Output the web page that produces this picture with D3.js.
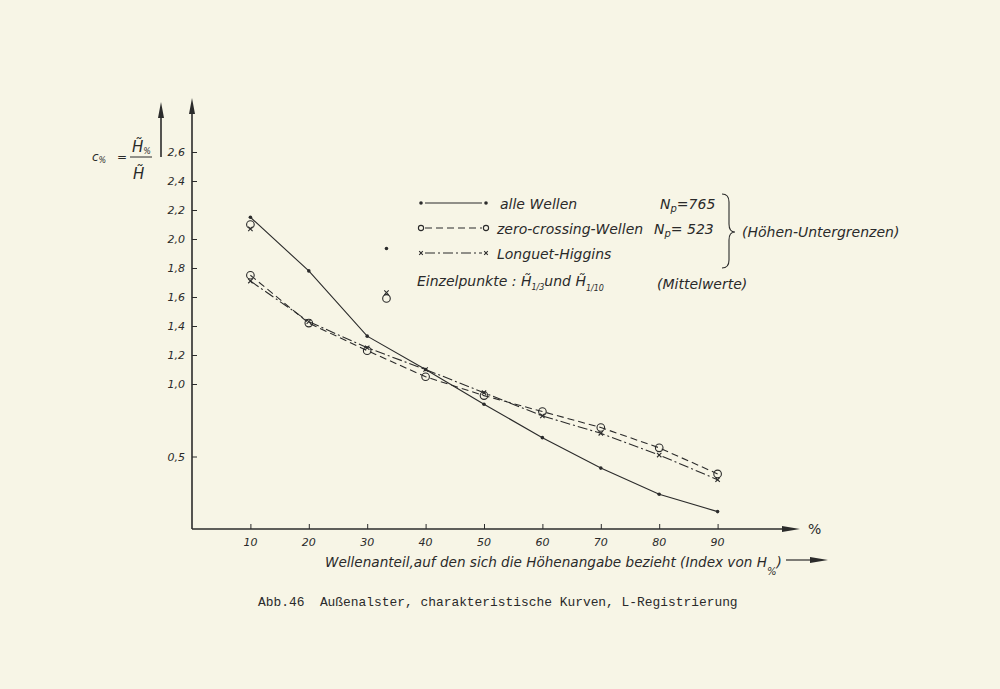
<!DOCTYPE html>
<html>
<head>
<meta charset="utf-8">
<script src="https://cdn.jsdelivr.net/npm/d3@7"></script>
<style>
  body { margin: 0; background: #f7f5e6; }
  svg { display: block; }
  text { fill: #2a2a2a; }
</style>
</head>
<body>
<script>
// chart data
var pct = [10, 20, 30, 40, 50, 60, 70, 80, 90];
var alleWellen = [2.15, 1.78, 1.33, 1.10, 0.86, 0.63, 0.42, 0.24, 0.12];
var zeroCrossing = [1.75, 1.42, 1.23, 1.05, 0.92, 0.81, 0.70, 0.56, 0.38];
var longuetHiggins = [1.71, 1.43, 1.25, 1.10, 0.94, 0.78, 0.66, 0.51, 0.34];

// single points: H 1/10 (index 10) and H 1/3 (index 33)
var singlePct = [10, 33.3];
var singleAlle = [null, 1.935];
var singleZero = [2.10, 1.59];
var singleLH = [2.07, 1.63];

var yTicks = [0.5, 1.0, 1.2, 1.4, 1.6, 1.8, 2.0, 2.2, 2.4, 2.6];
var xTicks = [10, 20, 30, 40, 50, 60, 70, 80, 90];

var width = 1000;
var height = 689;
var ink = '#2b2b2b';
var font = '"DejaVu Sans", sans-serif';

var svg = d3.select('body').append('svg')
  .attr('width', width)
  .attr('height', height);

// scales - both start at 0 on the axes crossing
var x = d3.scaleLinear().domain([0, 100]).range([192, 776]);
var y = d3.scaleLinear().domain([0, 2.6]).range([529, 152]);

var fmt = function(d) { return d3.format('.1f')(d).replace('.', ','); };

// arrow head helper (pointing up or right)
var arrowHead = function(tx, ty, dir) {
  var p = dir === 'up'
    ? [[tx, ty], [tx - 3, ty + 16], [tx + 3, ty + 16]]
    : [[tx, ty], [tx - 18, ty - 3], [tx - 18, ty + 3]];
  svg.append('path')
    .attr('d', d3.line()(p) + 'Z')
    .attr('fill', ink);
};

// y axis
var yAxis = d3.axisRight(y).tickValues(yTicks).tickSize(5).tickFormat('');
var gy = svg.append('g').attr('transform', 'translate(' + x(0) + ',0)').call(yAxis);
gy.select('.domain').remove();
gy.selectAll('line').attr('stroke', ink);
svg.append('line')
  .attr('x1', x(0)).attr('x2', x(0))
  .attr('y1', y(0)).attr('y2', 110)
  .attr('stroke', ink).attr('stroke-width', 1.6);
arrowHead(x(0), 98, 'up');
svg.selectAll('.ylab').data(yTicks).enter().append('text')
  .attr('x', 185).attr('y', function(d) { return y(d) + 4; })
  .attr('text-anchor', 'end')
  .attr('font-family', font).attr('font-style', 'italic')
  .attr('font-size', 11)
  .text(fmt);

// x axis
var xAxis = d3.axisTop(x).tickValues(xTicks).tickSize(5).tickFormat('');
var gx = svg.append('g').attr('transform', 'translate(0,' + y(0) + ')').call(xAxis);
gx.select('.domain').remove();
gx.selectAll('line').attr('stroke', ink);
svg.append('line')
  .attr('x1', x(0)).attr('x2', 790)
  .attr('y1', y(0)).attr('y2', y(0))
  .attr('stroke', ink).attr('stroke-width', 1.6);
arrowHead(800, y(0), 'right');
svg.selectAll('.xlab').data(xTicks).enter().append('text')
  .attr('x', function(d) { return x(d); }).attr('y', 546)
  .attr('text-anchor', 'middle')
  .attr('font-family', font).attr('font-style', 'italic')
  .attr('font-size', 11)
  .text(function(d) { return d; });
svg.append('text')
  .attr('x', 808).attr('y', 534)
  .attr('font-family', font).attr('font-size', 14)
  .text('%');

// x axis title
var xt = svg.append('text')
  .attr('x', 325).attr('y', 567)
  .attr('font-family', font).attr('font-style', 'italic')
  .attr('font-size', 13.6);
xt.append('tspan').text('Wellenanteil,auf den sich die Höhenangabe bezieht (Index von H');
xt.append('tspan').attr('dy', 8).attr('font-size', 10).text('%');
xt.append('tspan').attr('dy', -8).text(')');
svg.append('line')
  .attr('x1', 786).attr('x2', 812).attr('y1', 560).attr('y2', 560)
  .attr('stroke', ink).attr('stroke-width', 1.2);
arrowHead(828, 560, 'right');

// y axis title c% = H%/H
svg.append('text')
  .attr('x', 92).attr('y', 161)
  .attr('font-family', font).attr('font-style', 'italic').attr('font-size', 12)
  .text('c').append('tspan').attr('dy', 2).attr('font-size', 8).text('%');
svg.append('text')
  .attr('x', 117).attr('y', 161)
  .attr('font-family', font).attr('font-size', 12)
  .text('=');
svg.append('line')
  .attr('x1', 130).attr('x2', 152).attr('y1', 157).attr('y2', 157)
  .attr('stroke', ink).attr('stroke-width', 1);
svg.append('text')
  .attr('x', 132).attr('y', 152)
  .attr('font-family', font).attr('font-style', 'italic').attr('font-size', 15)
  .text('H\u0303').append('tspan').attr('dy', 2).attr('font-size', 8).text('%');
svg.append('text')
  .attr('x', 133).attr('y', 179)
  .attr('font-family', font).attr('font-style', 'italic').attr('font-size', 15)
  .text('H\u0303');
svg.append('line')
  .attr('x1', 161).attr('x2', 161).attr('y1', 157).attr('y2', 112)
  .attr('stroke', ink).attr('stroke-width', 1.6);
arrowHead(161, 102, 'up');

// series lines
var series = [
  { values: alleWellen, dash: null, marker: 'dot' },
  { values: zeroCrossing, dash: '7,4', marker: 'circle' },
  { values: longuetHiggins, dash: '10,3,2,3', marker: 'cross' }
];

var line = d3.line()
  .defined(function(d) { return d[1] != null; })
  .x(function(d) { return x(d[0]); })
  .y(function(d) { return y(d[1]); });

var drawMarker = function(kind, px, py, small) {
  if (kind === 'dot') {
    svg.append('circle').attr('cx', px).attr('cy', py).attr('r', 1.8).attr('fill', ink);
  } else if (kind === 'circle') {
    svg.append('circle').attr('cx', px).attr('cy', py).attr('r', small ? 2.6 : 3.8)
      .attr('fill', 'none').attr('stroke', ink).attr('stroke-width', 1.1);
  } else {
    var s = small ? 1.8 : 2.2;
    svg.append('path')
      .attr('d', 'M' + (px - s) + ',' + (py - s) + 'L' + (px + s) + ',' + (py + s) +
                 'M' + (px - s) + ',' + (py + s) + 'L' + (px + s) + ',' + (py - s))
      .attr('stroke', ink).attr('stroke-width', 1.1);
  }
};

series.forEach(function(s) {
  var pts = pct.map(function(p, i) { return [p, s.values[i]]; });
  svg.append('path')
    .attr('d', line(pts))
    .attr('fill', 'none')
    .attr('stroke', ink)
    .attr('stroke-width', 1.1)
    .attr('stroke-dasharray', s.dash);
  pts.forEach(function(d) { drawMarker(s.marker, x(d[0]), y(d[1])); });
});

// single points
singlePct.forEach(function(p, i) {
  if (singleAlle[i] != null) drawMarker('dot', x(p), y(singleAlle[i]));
  drawMarker('circle', x(p), y(singleZero[i]));
  drawMarker('cross', x(p), y(singleLH[i]));
});

// legend
var legRows = [
  { yy: 203, label: 'alle Wellen', n: '765', nx: 660, dash: null, marker: 'dot' },
  { yy: 228, label: 'zero-crossing-Wellen', n: ' 523', nx: 654, dash: '7,4', marker: 'circle' },
  { yy: 253, label: 'Longuet-Higgins', n: null, dash: '10,3,2,3', marker: 'cross' }
];
legRows.forEach(function(r) {
  svg.append('line')
    .attr('x1', 425).attr('x2', 482).attr('y1', r.yy).attr('y2', r.yy)
    .attr('stroke', ink).attr('stroke-width', 1.1)
    .attr('stroke-dasharray', r.dash);
  drawMarker(r.marker, 421, r.yy, true);
  drawMarker(r.marker, 486, r.yy, true);
  svg.append('text')
    .attr('x', r.marker === 'dot' ? 500 : 497).attr('y', r.yy + 6)
    .attr('font-family', font).attr('font-style', 'italic').attr('font-size', 14)
    .text(r.label);
  if (r.n) {
    var t = svg.append('text')
      .attr('x', r.nx).attr('y', r.yy + 6)
      .attr('font-family', font).attr('font-style', 'italic').attr('font-size', 14)
      .text('N');
    t.append('tspan').attr('dy', 3).attr('font-size', 10).text('p');
    t.append('tspan').attr('dy', -3).text('=' + r.n);
  }
});

// brace
svg.append('path')
  .attr('d', 'M722,194 Q729,194 729,202 L729,224 Q729,232 735,232 Q729,232 729,240 L729,260 Q729,268 722,268')
  .attr('fill', 'none').attr('stroke', ink).attr('stroke-width', 1.1);
svg.append('text')
  .attr('x', 742).attr('y', 237)
  .attr('font-family', font).attr('font-style', 'italic').attr('font-size', 14)
  .text('(Höhen-Untergrenzen)');

var ez = svg.append('text')
  .attr('x', 417).attr('y', 286)
  .attr('font-family', font).attr('font-style', 'italic').attr('font-size', 14)
  .text('Einzelpunkte : H\u0303');
ez.append('tspan').attr('dy', 4).attr('font-size', 8).text('1/3');
ez.append('tspan').attr('dy', -4).text('und  H\u0303');
ez.append('tspan').attr('dy', 5).attr('font-size', 8).text('1/10');
svg.append('text')
  .attr('x', 657).attr('y', 289)
  .attr('font-family', font).attr('font-style', 'italic').attr('font-size', 14)
  .text('(Mittelwerte)');

// caption
svg.append('text')
  .attr('x', 258).attr('y', 606)
  .attr('font-family', '"Liberation Mono", monospace')
  .attr('font-size', 12.9)
  .attr('xml:space', 'preserve')
  .style('white-space', 'pre')
  .text('Abb.46  Außenalster, charakteristische Kurven, L-Registrierung');
</script>
</body>
</html>
